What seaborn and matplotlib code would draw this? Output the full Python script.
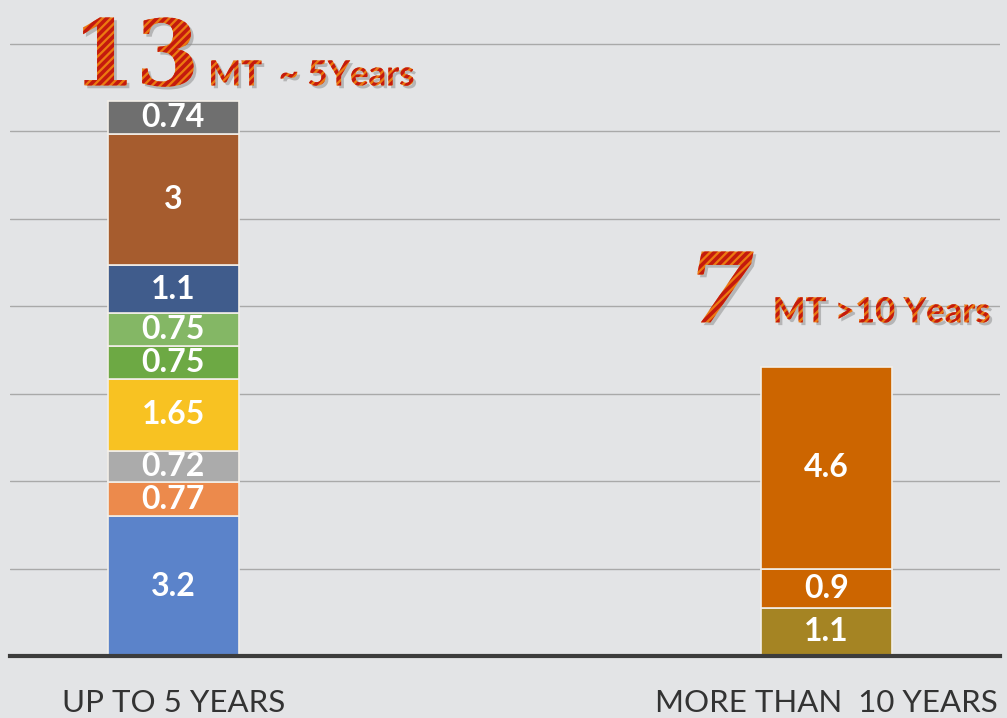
import matplotlib.pyplot as plt
import matplotlib.patheffects as pe
import seaborn as sns

# data
categories = ['UP TO 5 YEARS', 'MORE THAN  10 YEARS']
short_vals = [3.2, 0.77, 0.72, 1.65, 0.75, 0.75, 1.1, 3, 0.74]
short_colors = ['#5B83CA', '#EC8A4C', '#ABABAB', '#F8C222', '#6DA944',
                '#84B765', '#405C8C', '#A65C2E', '#6F6F6F']
long_vals = [1.1, 0.9, 4.6]
long_colors = ['#A58423', '#CC6500', '#CC6500']
headline_nums = ['13', '7']
headline_text = ['MT  ~ 5Years', 'MT >10 Years']

bg = '#E3E4E6'
sns.set_style('white')
plt.rcParams['hatch.linewidth'] = 2.6

fig = plt.figure(figsize=(10.07, 7.18), dpi=100, facecolor=bg)
ax = fig.add_axes([0.0099, (718 - 656) / 718, 0.983, 656 / 718])
ax.set_facecolor(bg)


def stack(cat, vals, colors):
    bottom = 0
    for v, c in zip(vals, colors):
        sns.barplot(x=[cat], y=[v], order=categories, color=c, width=0.2,
                    bottom=bottom, edgecolor='#F2EEE8', linewidth=1.2,
                    saturation=1, ax=ax)
        ax.bar_label(ax.containers[-1], fmt='%g', label_type='center',
                     color='white', fontsize=23, fontweight='bold',
                     family=['Lato', 'DejaVu Sans'])
        bottom += v
    return bottom


tot_short = stack(categories[0], short_vals, short_colors)
tot_long = stack(categories[1], long_vals, long_colors)

ax.set_xlim(-0.25, 1.265)
ax.set_ylim(0, 15)
ax.set_yticks(range(2, 15, 2))
ax.yaxis.grid(True, color='#A9A9A9', linewidth=1)
ax.set_axisbelow(True)
ax.tick_params(axis='y', left=False, labelleft=False)
ax.tick_params(axis='x', length=0, pad=24, labelsize=22.5, colors='#333333')
for lab in ax.get_xticklabels():
    lab.set_family(['Lato', 'DejaVu Sans'])
ax.set_xlabel('')
ax.set_ylabel('')
for s in ['top', 'right', 'left']:
    ax.spines[s].set_visible(False)
ax.spines['bottom'].set_color('#3C3C3C')
ax.spines['bottom'].set_linewidth(3)

stripes = [pe.SimplePatchShadow(offset=(2, -2), shadow_rgbFace='#888888', alpha=0.5),
           pe.PathPatchEffect(facecolor='#EC7A10', edgecolor='#C41A0E',
                              hatch='////', linewidth=0)]

# headline numbers above each bar
for i, tot in enumerate([tot_short, tot_long]):
    if i == 0:
        off_num, off_txt = (26, 16), (35, 16)
        style = 'normal'
        size = 66
    else:
        off_num, off_txt = (-72, 45), (-54, 45)
        style = 'italic'
        size = 70
    ax.annotate(headline_nums[i], xy=(i, tot), xytext=off_num,
                textcoords='offset pixels', ha='right', va='baseline',
                fontsize=size, fontweight='bold', fontstyle=style,
                family=['DejaVu Serif'], color='#E0601A',
                path_effects=stripes, annotation_clip=False)
    ax.annotate(headline_text[i], xy=(i, tot), xytext=off_txt,
                textcoords='offset pixels', ha='left', va='baseline',
                fontsize=25, fontweight='bold', family=['Lato', 'DejaVu Sans'],
                color='#E0601A', path_effects=stripes, annotation_clip=False)

fig.savefig('out.png', dpi=100, facecolor=bg)
